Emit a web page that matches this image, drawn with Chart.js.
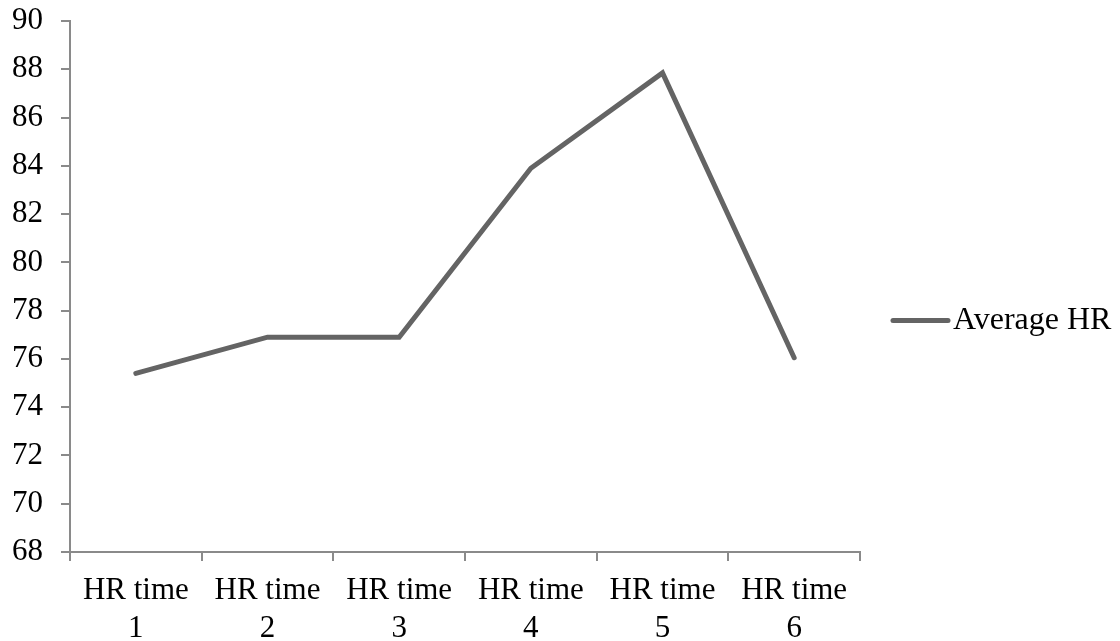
<!DOCTYPE html>
<html>
<head>
<meta charset="utf-8">
<script src="https://cdn.jsdelivr.net/npm/chart.js@4"></script>
<style>
  html, body { margin: 0; padding: 0; background: #fff; }
  #wrap { width: 1120px; height: 641px; position: relative; }
</style>
</head>
<body>
<div id="wrap"><canvas id="chartHR"></canvas></div>
<script>
// ── Average HR line chart ──────────────────────────

const categories = [
  ["HR time", "1"],
  ["HR time", "2"],
  ["HR time", "3"],
  ["HR time", "4"],
  ["HR time", "5"],
  ["HR time", "6"],
];
const averageHR = [75.4, 76.9, 76.9, 83.9, 87.85, 76.05];
const seriesLabel = "Average HR";
const yMin = 68;
const yMax = 90;
const yStep = 2;

const fontFamily = "'Liberation Serif', 'Times New Roman', serif";
const axisColor = "#8a8a8a";
const lineColor = "#646464";

// legend drawn to the right of the plot, like the original
const sideLegend = {
  id: "sideLegend",
  afterDraw(chart) {
    const ctx = chart.ctx;
    const ds = chart.data.datasets[0];
    const x = chart.chartArea.right + 33;
    const y = chart.height / 2;
    ctx.save();
    ctx.strokeStyle = ds.borderColor;
    ctx.lineWidth = ds.borderWidth;
    ctx.lineCap = "round";
    ctx.beginPath();
    ctx.moveTo(x, y);
    ctx.lineTo(x + 55, y);
    ctx.stroke();
    ctx.fillStyle = "#000";
    ctx.font = `32px ${fontFamily}`;
    ctx.textBaseline = "middle";
    ctx.fillText(ds.label, x + 60, y);
    ctx.restore();
  },
};

new Chart(document.getElementById("chartHR"), {
  type: "line",
  data: {
    labels: categories,
    datasets: [
      {
        label: seriesLabel,
        data: averageHR,
        borderColor: lineColor,
        backgroundColor: lineColor,
        borderWidth: 5,
        borderCapStyle: "round",
        pointRadius: 0,
        pointHoverRadius: 0,
        tension: 0,
      },
    ],
  },
  options: {
    responsive: true,
    maintainAspectRatio: false,
    animation: false,
    layout: { padding: { top: 21, right: 260, left: 0, bottom: 0 } },
    plugins: {
      legend: { display: false },
      tooltip: { enabled: false },
    },
    scales: {
      x: {
        offset: true,
        afterFit: (scale) => {
          scale.height = 89;
          scale.paddingLeft = 0;
          scale.paddingRight = 0;
        },
        grid: {
          offset: true,
          drawOnChartArea: false,
          drawTicks: true,
          tickLength: 9,
          color: axisColor,
          lineWidth: 2,
        },
        border: { color: axisColor, width: 2 },
        ticks: {
          color: "#000",
          padding: 11,
          maxRotation: 0,
          autoSkip: false,
          font: { family: fontFamily, size: 31, lineHeight: 1.22 },
        },
      },
      y: {
        min: yMin,
        max: yMax,
        afterFit: (scale) => {
          scale.width = 70;
          scale.paddingTop = 0;
          scale.paddingBottom = 0;
        },
        grid: {
          drawOnChartArea: false,
          drawTicks: true,
          tickLength: 9,
          color: axisColor,
          lineWidth: 2,
        },
        border: { color: axisColor, width: 2 },
        ticks: {
          stepSize: yStep,
          color: "#000",
          padding: 18,
          font: { family: fontFamily, size: 31 },
        },
      },
    },
  },
  plugins: [sideLegend],
});
</script>
</body>
</html>
